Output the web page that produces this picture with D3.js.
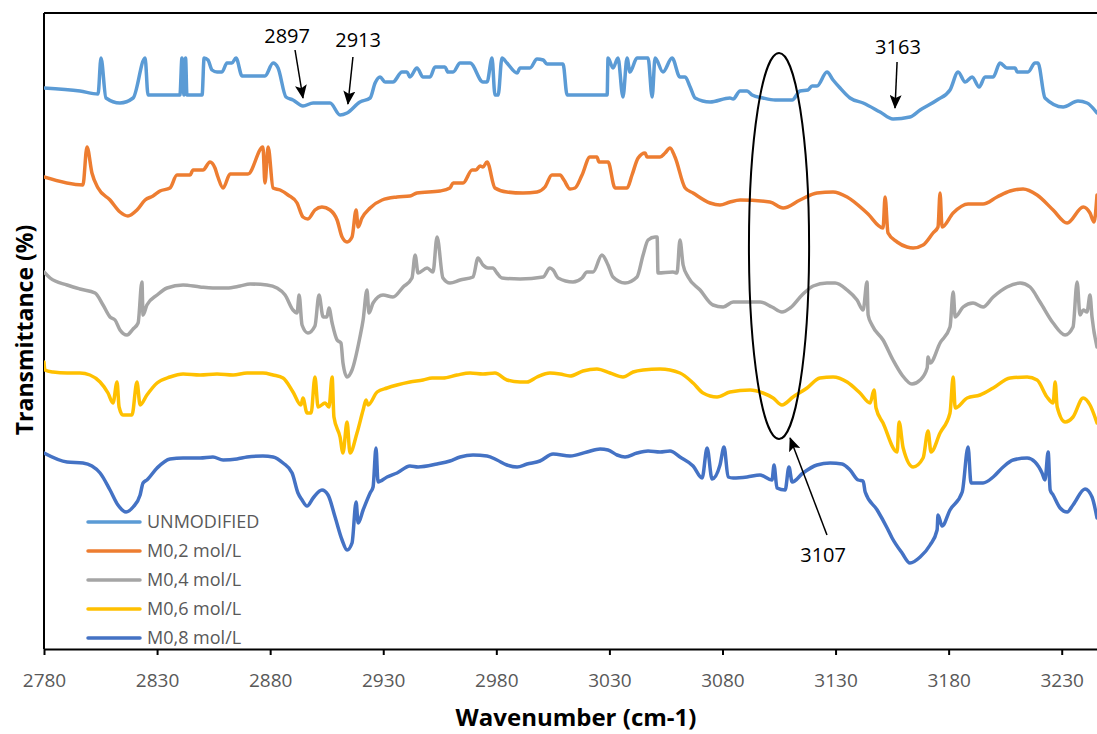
<!DOCTYPE html>
<html>
<head>
<meta charset="utf-8">
<script src="https://cdn.jsdelivr.net/npm/d3@7"></script>
<style>
  html, body { margin: 0; padding: 0; background: #fff; }
  svg { display: block; }
</style>
</head>
<body>
<div id="chart"></div>
<script>
// ---------- DATA ----------
const wavenumberTicks = [2780, 2830, 2880, 2930, 2980, 3030, 3080, 3130, 3180, 3230];
const seriesNames = ["UNMODIFIED", "M0,2 mol/L", "M0,4 mol/L", "M0,6 mol/L", "M0,8 mol/L"];

// [wavenumber (cm-1), transmittance (a.u., offset spectra)]
const unmodified = [
  [2780.0,561],[2795.9,558],[2803.9,555],[2805.2,591],[2807.4,551],[2813.6,546],[2819.4,551],[2824.7,591],[2826.0,554],
  [2840.1,554],[2841.0,591],[2841.9,554],[2842.6,591],[2843.2,554],[2849.9,554],[2850.8,591],[2852.5,589],[2854.3,579],
  [2856.5,577],[2858.7,577],[2860.9,586],[2863.1,586],[2864.9,591],[2867.6,573],[2877.7,573],[2881.3,586],[2883.5,581],
  [2887.0,552],[2890.1,549],[2894.5,543],[2899.0,546],[2906.5,546],[2910.9,534],[2914.0,536],[2919.7,547],[2924.2,551],
  [2926.4,566],[2928.6,572],[2930.8,567],[2934.3,567],[2938.3,577],[2940.5,577],[2941.8,572],[2944.9,581],[2947.6,572],
  [2950.7,572],[2952.9,582],[2957.3,582],[2958.6,577],[2960.9,577],[2964.0,586],[2968.4,586],[2974.1,567],[2975.9,567],
  [2978.1,591],[2979.4,554],[2980.8,554],[2982.5,591],[2984.7,586],[2989.2,576],[2990.5,581],[2994.9,581],[2998.0,590],
  [3000.7,589],[3002.4,585],[3009.5,585],[3011.3,554],[3029.0,554],[3029.4,591],[3031.6,581],[3033.8,591],[3036.0,552],
  [3037.8,591],[3039.1,577],[3042.2,591],[3047.1,591],[3048.9,552],[3050.2,591],[3053.7,577],[3057.7,591],[3061.2,572],
  [3063.5,572],[3065.7,562],[3067.9,551],[3074.5,547],[3083.3,551],[3084.7,550],[3087.8,558],[3090.9,558],[3093.1,554],
  [3097.9,551],[3103.3,549],[3110.8,549],[3114.3,558],[3117.8,559],[3119.6,563],[3121.8,563],[3126.2,577],[3128.9,569],
  [3132.0,561],[3136.4,551],[3142.2,546],[3149.7,537],[3155.4,530],[3162.9,532],[3167.4,539],[3174.9,549],[3180.6,559],
  [3184.2,577],[3187.3,567],[3190.4,572],[3193.5,562],[3196.1,572],[3199.7,572],[3202.7,586],[3205.8,581],[3209.4,581],
  [3210.3,577],[3215.1,577],[3218.2,586],[3219.5,586],[3222.6,551],[3230.6,542],[3237.2,548],[3241.2,546],[3245.6,536]
];
const m02 = [
  [2780.0,472],[2797.2,464],[2799.0,502],[2801.2,476],[2803.9,461],[2809.2,449],[2813.6,437],[2817.1,433],[2821.1,439],
  [2824.7,449],[2828.2,453],[2831.3,458],[2835.7,461],[2838.8,474],[2844.6,474],[2845.9,479],[2850.3,479],[2853.4,487],
  [2855.6,481],[2856.9,472],[2859.2,461],[2862.3,475],[2870.2,475],[2876.8,502],[2877.7,466],[2879.1,502],[2881.3,461],
  [2884.4,459],[2887.9,454],[2891.9,446],[2894.5,432],[2896.7,430],[2899.8,439],[2902.9,442],[2906.5,439],[2909.6,429],
  [2911.8,412],[2914.0,407],[2916.2,412],[2918.0,439],[2918.9,422],[2920.6,431],[2924.2,441],[2929.5,449],[2936.1,452],
  [2941.8,453],[2944.9,456],[2955.1,458],[2959.5,461],[2960.9,466],[2965.3,466],[2969.3,479],[2971.0,479],[2972.8,483],
  [2974.1,482],[2975.9,487],[2979.4,461],[2984.7,457],[2991.8,456],[2998.0,457],[3001.5,462],[3004.6,474],[3008.2,474],
  [3009.9,469],[3012.6,460],[3014.8,461],[3017.9,474],[3021.4,492],[3024.5,492],[3025.4,487],[3029.4,487],[3032.5,461],
  [3037.8,461],[3040.0,474],[3042.7,491],[3045.8,496],[3046.6,492],[3052.4,492],[3054.6,496],[3056.8,501],[3059.0,492],
  [3063.5,461],[3067.0,456],[3074.5,446],[3078.9,444],[3083.3,447],[3087.8,449],[3101.0,447],[3106.8,441],[3114.3,449],
  [3121.8,456],[3128.9,457],[3135.1,452],[3143.9,436],[3151.0,421],[3151.9,452],[3153.2,416],[3157.2,407],[3161.6,402],
  [3164.3,401],[3168.7,404],[3173.1,416],[3175.3,422],[3176.2,456],[3177.1,422],[3182.0,436],[3188.6,445],[3195.2,445],
  [3201.4,452],[3207.2,458],[3212.9,460],[3219.1,454],[3226.2,439],[3232.4,426],[3239.5,442],[3242.5,436],[3244.3,427],
  [3245.6,454]
];
const m04 = [
  [2780.0,377],[2782.7,371],[2790.2,364],[2795.9,360],[2802.6,356],[2806.1,344],[2809.2,332],[2811.4,329],[2813.6,319],
  [2816.7,314],[2819.4,320],[2821.6,326],[2823.3,367],[2823.8,334],[2825.5,344],[2830.0,354],[2834.4,361],[2841.5,364],
  [2849.0,362],[2854.7,361],[2860.9,361],[2866.7,363],[2871.1,365],[2878.6,364],[2883.0,361],[2886.6,354],[2890.1,339],
  [2891.9,336],[2892.8,354],[2894.1,324],[2896.7,316],[2899.8,323],[2901.6,354],[2903.4,332],[2905.1,332],[2906.0,341],
  [2907.4,326],[2909.6,309],[2911.3,306],[2912.2,286],[2914.0,272],[2916.2,279],[2919.7,312],[2921.1,329],[2922.8,359],
  [2923.7,336],[2925.5,346],[2929.9,354],[2934.3,352],[2938.8,362],[2942.7,371],[2944.1,394],[2945.4,376],[2949.4,381],
  [2952.0,377],[2953.8,412],[2956.4,371],[2959.5,366],[2964.0,369],[2969.7,372],[2971.9,391],[2974.1,384],[2976.3,381],
  [2978.5,381],[2980.3,376],[2982.5,371],[2990.5,370],[3000.7,372],[3003.7,381],[3005.1,379],[3007.3,371],[3013.9,367],
  [3017.9,371],[3020.1,377],[3022.8,377],[3026.7,394],[3029.4,384],[3031.6,372],[3036.9,366],[3042.2,372],[3044.9,394],
  [3047.1,409],[3050.2,412],[3051.1,412],[3051.5,376],[3058.1,377],[3059.9,376],[3061.2,409],[3062.6,384],[3064.8,372],
  [3070.1,359],[3075.8,344],[3080.3,342],[3084.7,347],[3096.6,347],[3101.9,342],[3106.3,337],[3109.9,341],[3115.2,354],
  [3120.1,363],[3126.2,366],[3129.8,366],[3135.1,359],[3139.5,349],[3142.2,339],[3143.9,367],[3144.4,334],[3146.1,324],
  [3151.0,309],[3155.4,289],[3159.4,274],[3163.8,265],[3167.4,269],[3170.5,281],[3170.9,292],[3171.8,286],[3176.2,306],
  [3180.6,322],[3182.0,357],[3182.9,332],[3186.4,342],[3190.8,346],[3195.2,342],[3199.7,352],[3205.8,362],[3211.6,366],
  [3216.0,362],[3220.4,347],[3226.2,326],[3231.5,314],[3235.0,322],[3236.8,367],[3238.1,334],[3239.5,339],[3241.2,337],
  [3242.5,354],[3243.4,332],[3245.6,302]
];
const m06 = [
  [2780.0,287],[2780.4,279],[2784.0,277],[2790.2,276],[2795.9,276],[2800.3,274],[2804.8,267],[2808.3,256],[2810.5,246],
  [2812.3,267],[2813.2,242],[2814.9,234],[2818.9,234],[2821.1,267],[2822.5,244],[2825.5,254],[2830.0,266],[2835.7,272],
  [2841.5,275],[2849.0,274],[2856.5,275],[2863.6,274],[2869.8,276],[2876.8,276],[2881.3,274],[2885.7,271],[2890.1,257],
  [2893.6,244],[2894.5,251],[2896.3,236],[2898.1,236],[2899.8,272],[2901.2,242],[2904.3,246],[2906.0,242],[2907.4,272],
  [2908.2,232],[2910.9,212],[2912.2,196],[2914.0,227],[2915.3,196],[2918.4,216],[2921.1,239],[2922.4,249],[2923.3,244],
  [2927.3,257],[2931.7,261],[2936.1,264],[2941.8,267],[2947.6,269],[2951.6,271],[2956.4,271],[2962.6,274],[2968.4,276],
  [2974.1,275],[2979.4,276],[2984.7,269],[2990.5,267],[2993.6,267],[2998.0,272],[3003.7,276],[3008.2,275],[3012.6,273],
  [3018.3,278],[3024.5,280],[3030.3,276],[3036.0,272],[3040.5,277],[3044.9,279],[3052.4,280],[3061.2,276],[3067.0,266],
  [3071.4,256],[3077.6,252],[3083.3,257],[3092.2,259],[3097.9,256],[3102.4,251],[3106.3,244],[3111.2,252],[3117.4,261],
  [3123.1,271],[3128.9,272],[3135.1,267],[3140.8,256],[3145.3,246],[3147.0,259],[3147.9,241],[3151.0,226],[3157.2,197],
  [3158.1,227],[3159.9,201],[3164.3,182],[3168.7,191],[3170.9,218],[3172.2,197],[3176.2,216],[3180.6,236],[3182.0,272],
  [3182.9,241],[3188.2,251],[3193.9,254],[3199.7,261],[3207.2,271],[3214.7,272],[3219.1,269],[3223.5,252],[3226.2,246],
  [3227.1,267],[3228.0,242],[3231.5,227],[3235.0,232],[3239.5,251],[3242.5,244],[3245.6,226]
];
const m08 = [
  [2780.0,196],[2790.2,187],[2797.2,186],[2801.2,183],[2804.8,176],[2809.2,159],[2812.7,144],[2816.3,137],[2819.4,142],
  [2822.5,154],[2823.8,166],[2825.5,169],[2830.0,181],[2835.7,190],[2841.5,191],[2849.0,191],[2854.7,192],[2859.2,189],
  [2865.3,190],[2869.8,192],[2876.8,193],[2881.3,192],[2885.7,186],[2889.7,176],[2892.3,156],[2894.1,149],[2896.3,143],
  [2899.0,151],[2902.9,159],[2905.6,154],[2908.7,132],[2911.8,109],[2914.0,99],[2916.2,106],[2918.0,147],[2918.9,126],
  [2921.1,139],[2924.2,156],[2925.5,162],[2926.8,201],[2927.7,167],[2931.7,172],[2936.1,176],[2941.8,183],[2945.4,182],
  [2953.8,185],[2959.5,188],[2964.0,192],[2969.7,194],[2975.9,193],[2980.3,189],[2984.7,184],[2989.2,182],[2993.6,185],
  [2999.3,188],[3005.1,195],[3012.6,193],[3020.1,197],[3025.9,200],[3029.4,199],[3033.4,194],[3036.9,192],[3042.2,196],
  [3047.1,198],[3052.4,197],[3056.8,198],[3061.2,192],[3067.0,183],[3071.0,171],[3073.2,201],[3075.4,170],[3078.9,184],
  [3080.7,202],[3082.5,172],[3084.7,171],[3090.9,172],[3096.6,174],[3101.9,169],[3102.8,184],[3104.1,161],[3107.7,159],
  [3109.4,182],[3110.8,167],[3115.6,176],[3121.8,184],[3127.6,186],[3132.9,185],[3136.4,179],[3140.0,169],[3142.2,168],
  [3143.1,157],[3148.4,139],[3152.8,121],[3155.0,111],[3159.4,96],[3162.9,86],[3167.4,92],[3171.8,104],[3174.9,119],
  [3175.3,134],[3177.1,123],[3180.6,139],[3186.0,157],[3188.6,202],[3189.9,166],[3195.2,166],[3199.7,172],[3204.1,182],
  [3208.5,189],[3214.7,191],[3218.2,187],[3221.3,176],[3222.6,169],[3224.0,197],[3224.9,159],[3226.2,154],[3229.3,141],
  [3232.4,137],[3235.0,144],[3240.3,160],[3243.4,152],[3245.6,131]
];
const seriesData = [unmodified, m02, m04, m06, m08];

// annotations: label, text anchor point, arrow tail, arrow tip (wavenumber, transmittance)
const annotationLabels = ["2897", "2913", "3163", "3107"];
const annotationText = [[2887.5,606],[2918.9,602],[3157.6,595],[3124.5,87]];
const annotationTail = [[2891.0,599],[2916.6,592],[3157.2,587],[3126.2,114]];
const annotationTip  = [[2894.5,551],[2914.4,545],[3156.3,541],[3109.9,211]];
// highlighted region (ellipse): centre wavenumber, centre transmittance, half-width (cm-1), half-height
const ellipseRegion = [3105.0, 403, 13.3, 193];

// ---------- STYLE ----------
const colors = ["#5B9BD5", "#ED7D31", "#A5A5A5", "#FFC000", "#4472C4"];
const W = 1097, H = 734;
const plot = { left: 44, right: 1097, top: 13, bottom: 649 };
const FONT = "'Open Sans', 'Noto Sans', Arial, sans-serif";

const svg = d3.select("#chart").append("svg")
  .attr("width", W).attr("height", H)
  .attr("font-family", FONT);

const x = d3.scaleLinear().domain([2780, 3245.6]).range([plot.left, plot.right]);
const y = d3.scaleLinear().domain([0, 636]).range([plot.bottom, plot.top]);

const defs = svg.append("defs");
defs.append("clipPath").attr("id", "clip")
  .append("rect").attr("x", plot.left).attr("y", plot.top)
  .attr("width", plot.right - plot.left).attr("height", plot.bottom - plot.top);
defs.append("marker")
  .attr("id", "arrow").attr("markerUnits", "userSpaceOnUse")
  .attr("viewBox", "0 0 14 12").attr("refX", 13).attr("refY", 6)
  .attr("markerWidth", 14).attr("markerHeight", 12).attr("orient", "auto")
  .append("path").attr("d", "M0,0 L14,6 L0,12 L3,6 Z").attr("fill", "#000");

// frame: top and left lines
svg.append("line").attr("x1", plot.left).attr("x2", plot.right)
  .attr("y1", plot.top).attr("y2", plot.top).attr("stroke", "#000").attr("stroke-width", 2);
svg.append("line").attr("x1", plot.left).attr("x2", plot.left)
  .attr("y1", plot.top).attr("y2", plot.bottom).attr("stroke", "#000").attr("stroke-width", 2);

// series
const line = d3.line().x(d => x(d[0])).y(d => y(d[1])).curve(d3.curveMonotoneX);
svg.append("g").attr("clip-path", "url(#clip)")
  .selectAll("path").data(seriesData).join("path")
  .attr("d", line)
  .attr("fill", "none")
  .attr("stroke", (d, i) => colors[i])
  .attr("stroke-width", 3.5)
  .attr("stroke-linejoin", "round")
  .attr("stroke-linecap", "round");

// x axis
const xAxis = d3.axisBottom(x).tickValues(wavenumberTicks).tickFormat(d3.format("d"))
  .tickSizeInner(6).tickSizeOuter(0);
const gx = svg.append("g").attr("transform", `translate(0,${plot.bottom})`).call(xAxis);
gx.select(".domain").attr("stroke", "#000").attr("stroke-width", 2);
gx.selectAll(".tick line").attr("stroke", "#000").attr("stroke-width", 2);
gx.selectAll(".tick text").attr("y", 38).attr("dy", 0)
  .attr("font-size", 19).attr("fill", "#595959").attr("font-family", FONT);

// axis titles
svg.append("text").attr("x", 576).attr("y", 726).attr("text-anchor", "middle")
  .attr("font-size", 24).attr("font-weight", "bold").attr("fill", "#000")
  .text("Wavenumber (cm-1)");
svg.append("text").attr("transform", "translate(33,330) rotate(-90)")
  .attr("text-anchor", "middle")
  .attr("font-size", 23).attr("font-weight", "bold").attr("fill", "#000")
  .text("Transmittance (%)");

// legend
const legend = svg.append("g").selectAll("g").data(seriesNames).join("g")
  .attr("transform", (d, i) => `translate(88,${522 + i * 29})`);
legend.append("line").attr("x1", 0).attr("x2", 52).attr("y1", 0).attr("y2", 0)
  .attr("stroke", (d, i) => colors[i]).attr("stroke-width", 3.5).attr("stroke-linecap", "round");
legend.append("text").attr("x", 59).attr("y", 0).attr("dy", "0.35em")
  .attr("font-size", 18).attr("fill", "#595959").text(d => d);

// ellipse
svg.append("ellipse")
  .attr("cx", x(ellipseRegion[0])).attr("cy", y(ellipseRegion[1]))
  .attr("rx", x(ellipseRegion[0] + ellipseRegion[2]) - x(ellipseRegion[0]))
  .attr("ry", y(0) - y(ellipseRegion[3]))
  .attr("fill", "none").attr("stroke", "#000").attr("stroke-width", 2);

// annotations
const ann = svg.append("g").selectAll("g").data(annotationLabels).join("g");
ann.append("line")
  .attr("x1", (d, i) => x(annotationTail[i][0])).attr("y1", (d, i) => y(annotationTail[i][1]))
  .attr("x2", (d, i) => x(annotationTip[i][0])).attr("y2", (d, i) => y(annotationTip[i][1]))
  .attr("stroke", "#000").attr("stroke-width", 1.5).attr("marker-end", "url(#arrow)");
ann.append("text")
  .attr("x", (d, i) => x(annotationText[i][0])).attr("y", (d, i) => y(annotationText[i][1]))
  .attr("text-anchor", "middle").attr("font-size", 20).attr("fill", "#000").text(d => d);
</script>
</body>
</html>
